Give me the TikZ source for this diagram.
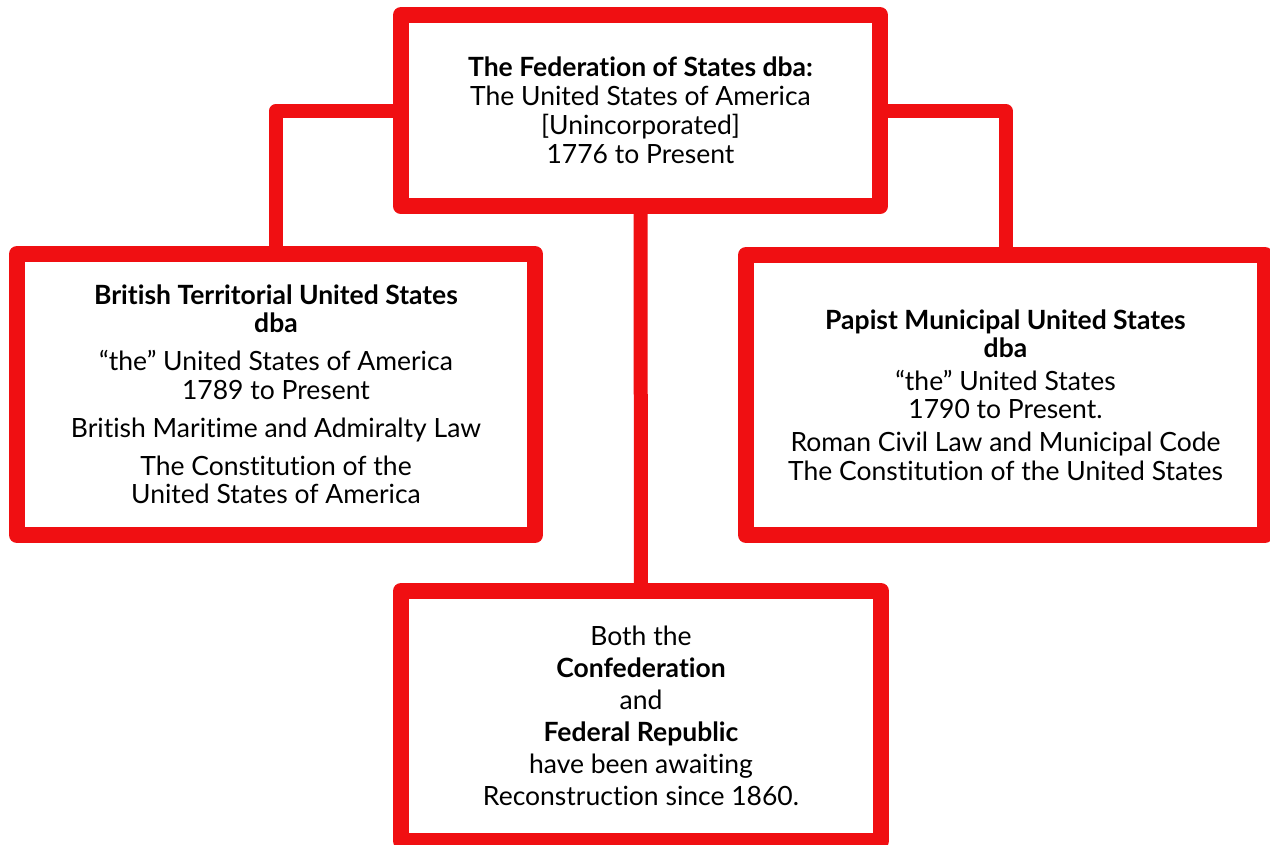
\documentclass[tikz,border=0pt]{standalone}
\usepackage{fontspec}
\setmainfont{Lato}[Ligatures={NoCommon}]
\definecolor{boxred}{RGB}{240,15,18}
\begin{document}
\begin{tikzpicture}[x=1pt,y=-1pt,
  box/.style={draw=boxred, line width=16pt, fill=white, line join=round,
    inner sep=0pt, outer sep=0pt, align=center, text=black,
    font=\fontsize{26.5}{29}\selectfont},
  conn/.style={draw=boxred, line width=14pt, line join=round}]
\useasboundingbox (0,0) rectangle (1270,845);
\clip (0,0) rectangle (1270,845);
\node[box, minimum width=479pt, minimum height=191.5pt] (fed) at (640.5,110.75)
  {\textbf{The Federation of States dba:}\\The United States of America\\{[}Unincorporated{]}\\1776 to Present};
\node[box, minimum width=518pt, minimum height=281pt] (brit) at (276,394.5)
  {\textbf{British Territorial United States}\\[-1pt]\textbf{dba}\\[9pt]“the” United States of America\\1789 to Present\\[9pt]British Maritime and Admiralty Law\\[9pt]The Constitution of the\\[-1pt]United States of America};
\node[box, minimum width=519pt, minimum height=280pt] (papist) at (1005.5,395)
  {\textbf{Papist Municipal United States}\\[-1pt]\textbf{dba}\\[4pt]“the” United States\\[-1pt]1790 to Present.\\[4pt]Roman Civil Law and Municipal Code\\The Constitution of the United States};
\node[box, minimum width=480pt, minimum height=250pt] (both) at (641,716)
  {Both the\\[3pt]\textbf{Confederation}\\[3pt]and\\[3pt]\textbf{Federal Republic}\\[3pt]have been awaiting\\[3pt]Reconstruction since 1860.};
\draw[conn] (fed.west) -| (brit.north);
\draw[conn] (fed.east) -| (papist.north);
\draw[conn] (fed.south) -- (both.north);
\end{tikzpicture}
\end{document}
